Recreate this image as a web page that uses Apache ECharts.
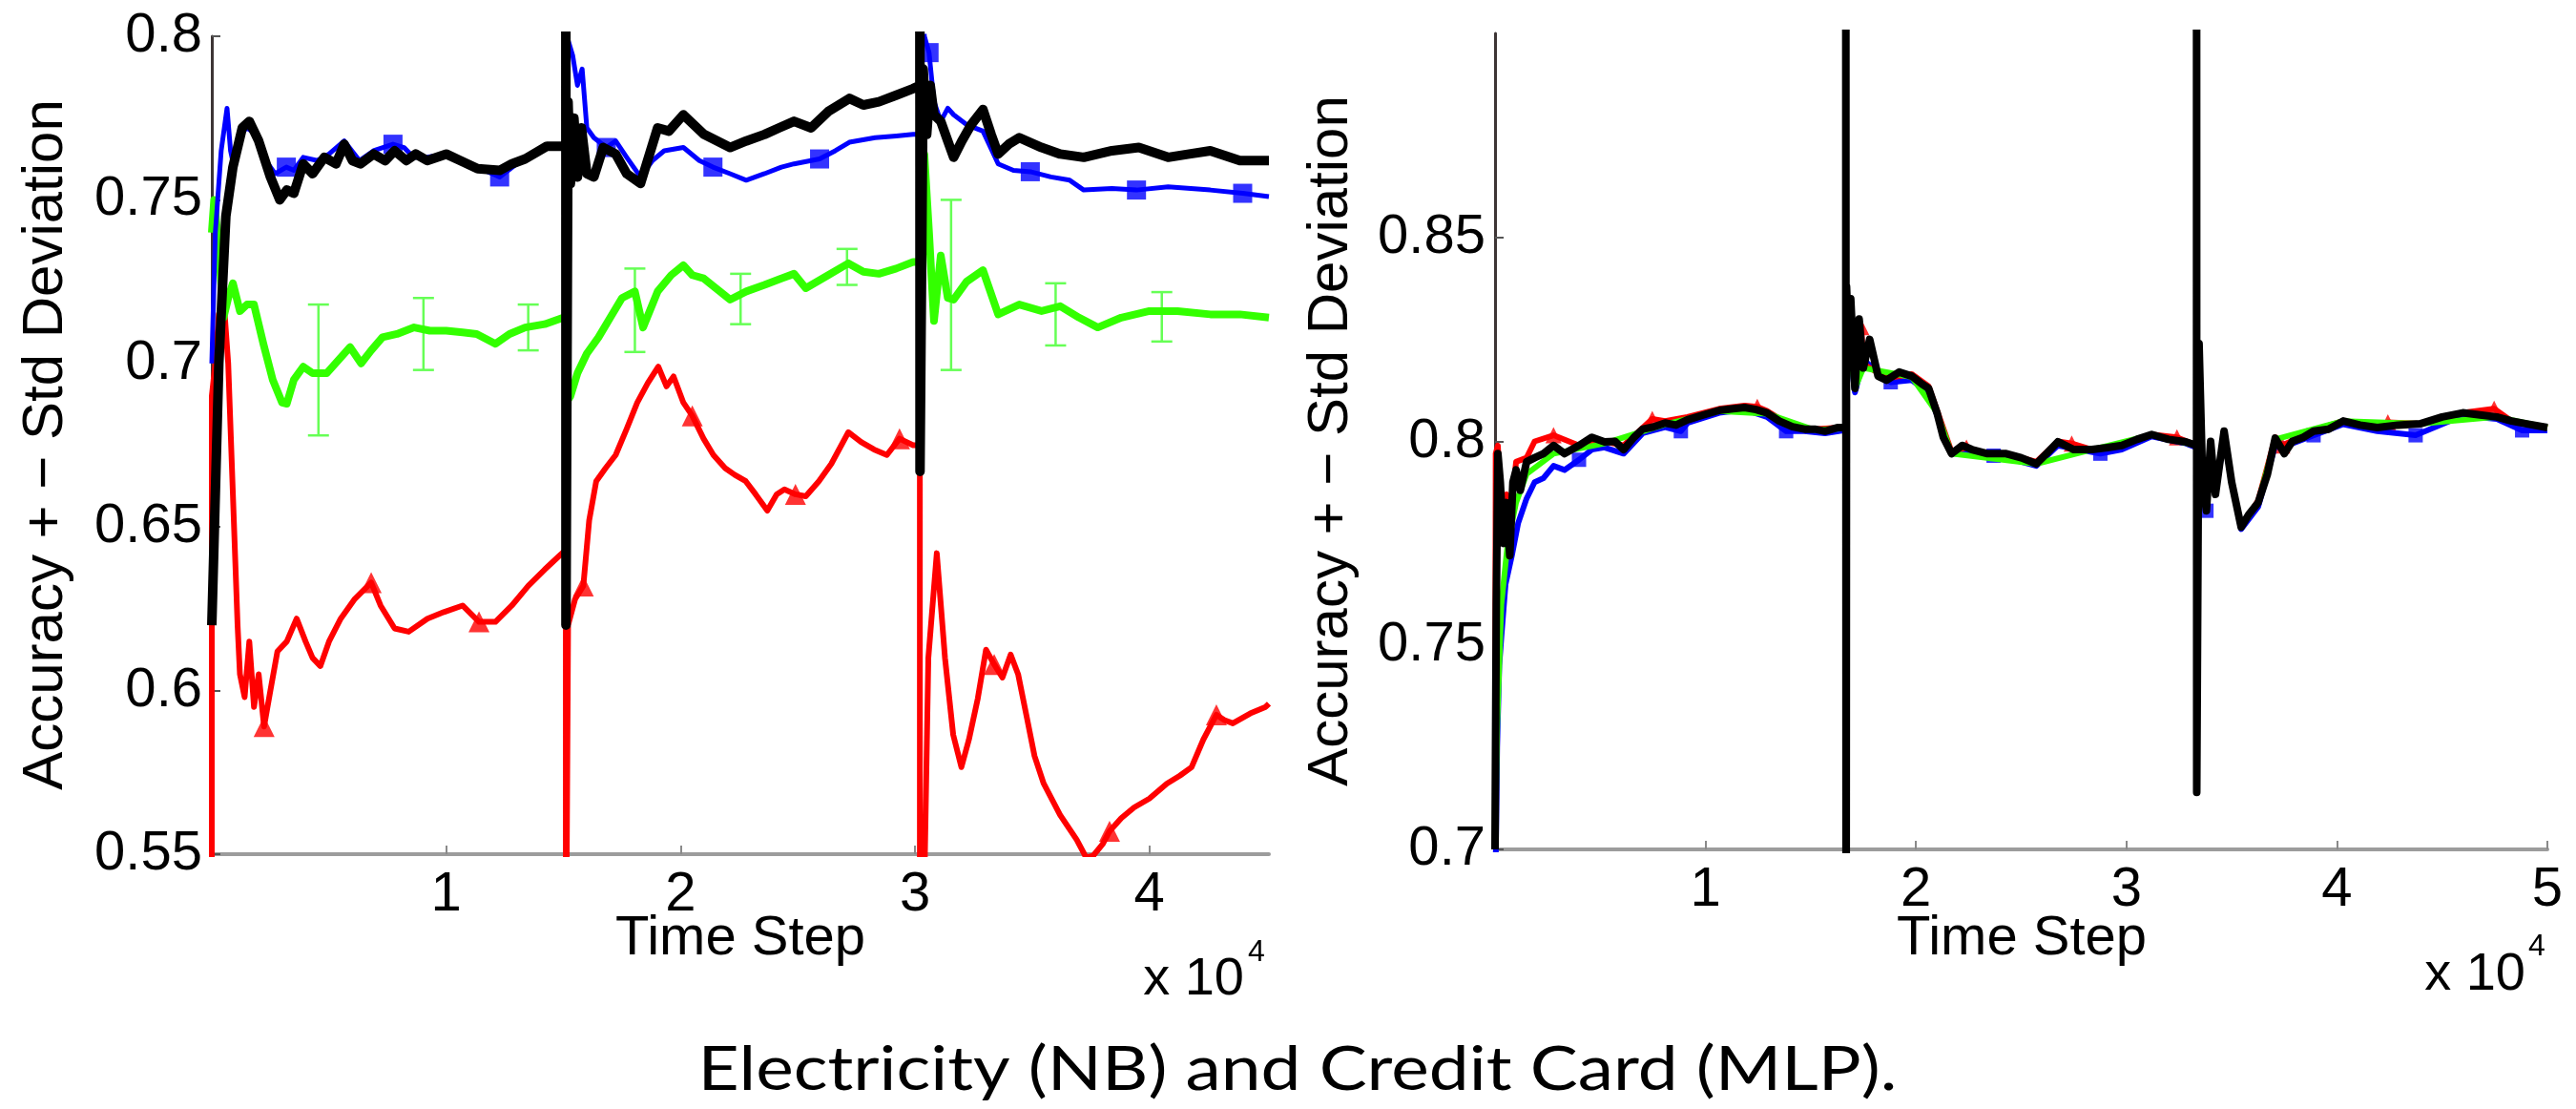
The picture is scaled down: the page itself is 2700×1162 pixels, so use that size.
<!DOCTYPE html>
<html><head><meta charset="utf-8">
<script src="https://cdn.jsdelivr.net/npm/echarts@6/dist/echarts.min.js"></script>
<style>html,body{margin:0;padding:0;background:#fff}#c{width:2700px;height:1162px}</style>
</head><body><div id="c"></div>
<script>
// ---------- Electricity (NB) : [timeStep, accuracy] ----------
const elecBlack = [[0,0.62],[300,0.70],[600,0.745],[900,0.76],[1300,0.772],[1600,0.774],[2000,0.768],[2500,0.757],[2900,0.75],[3200,0.753],[3500,0.752],[3900,0.761],[4300,0.758],[4800,0.763],[5300,0.761],[5650,0.767],[6000,0.762],[6340,0.761],[6900,0.764],[7400,0.762],[7800,0.765],[8300,0.762],[8700,0.764],[9190,0.762],[10000,0.764],[10600,0.762],[11340,0.7595],[12280,0.759],[12800,0.761],[13370,0.7625],[14300,0.7664],[15000,0.7664],[15104,0.7664],
[15104,0.85],[15110,0.62],[15200,0.78],[15300,0.755],[15450,0.775],[15600,0.757],[15770,0.772],[16000,0.758],[16300,0.757],[16700,0.766],[17230,0.764],[17700,0.758],[18290,0.755],[19020,0.772],[19500,0.771],[20120,0.776],[21000,0.770],[22110,0.766],[22800,0.768],[23580,0.77],[24200,0.772],[24840,0.774],[25570,0.772],[26300,0.777],[27200,0.781],[27800,0.779],[28460,0.780],[29200,0.782],[29920,0.784],[30208,0.785],
[30208,0.85],[30215,0.667],[30350,0.79],[30500,0.77],[30650,0.785],[30810,0.776],[31100,0.774],[31400,0.768],[31650,0.763],[32000,0.768],[32400,0.773],[32900,0.7776],[33250,0.77],[33550,0.764],[34000,0.767],[34450,0.769],[35400,0.766],[36200,0.764],[37200,0.763],[38400,0.765],[39550,0.766],[40800,0.763],[41700,0.764],[42600,0.765],[43860,0.762],[45100,0.762]];

const elecBlue = [[0,0.70],[150,0.74],[400,0.765],[650,0.778],[800,0.765],[950,0.76],[1200,0.77],[1500,0.772],[1900,0.77],[2300,0.762],[2700,0.758],[3180,0.760],[3500,0.759],[3900,0.763],[4500,0.762],[5000,0.764],[5650,0.768],[6300,0.762],[6900,0.765],[7730,0.767],[8200,0.766],[8600,0.763],[9190,0.763],[10000,0.764],[10600,0.762],[11340,0.760],[12280,0.757],[13000,0.761],[13370,0.763],[14300,0.766],[15000,0.7664],[15104,0.7664],
[15104,0.85],[15150,0.80],[15400,0.794],[15600,0.785],[15800,0.79],[16000,0.772],[16300,0.769],[16830,0.766],[17230,0.768],[17700,0.763],[18290,0.757],[18800,0.762],[19300,0.765],[20120,0.766],[20800,0.762],[21380,0.760],[22110,0.758],[22800,0.756],[23580,0.758],[24300,0.760],[24840,0.761],[25930,0.7625],[26600,0.765],[27200,0.7676],[28300,0.769],[29200,0.7695],[29920,0.770],[30208,0.770],
[30208,0.85],[30400,0.80],[30600,0.795],[30810,0.78],[31100,0.774],[31400,0.778],[31650,0.776],[32200,0.773],[32900,0.771],[33550,0.761],[34200,0.759],[34920,0.7586],[35800,0.757],[36600,0.756],[37200,0.753],[38400,0.7535],[39450,0.753],[40800,0.754],[42600,0.753],[43980,0.752],[45100,0.751]];

const elecGreen = [[0,0.74],[100,0.75],[300,0.735],[500,0.714],[700,0.72],[900,0.7245],[1200,0.716],[1500,0.718],[1800,0.718],[2200,0.706],[2600,0.695],[3000,0.688],[3200,0.6877],[3500,0.695],[3900,0.699],[4300,0.697],[4900,0.697],[5400,0.701],[5900,0.705],[6370,0.700],[6800,0.704],[7280,0.708],[7900,0.709],[8630,0.711],[9300,0.710],[10000,0.710],[10700,0.7095],[11300,0.709],[12100,0.706],[12700,0.709],[13370,0.711],[14200,0.712],[15000,0.714],[15104,0.714],
[15104,0.688],[15300,0.69],[15600,0.697],[16000,0.703],[16500,0.708],[17000,0.714],[17500,0.72],[18050,0.722],[18400,0.711],[19020,0.722],[19600,0.727],[20120,0.73],[20500,0.727],[20980,0.726],[21500,0.723],[22110,0.7195],[22800,0.722],[23580,0.724],[24300,0.726],[24840,0.7274],[25340,0.723],[26300,0.727],[27160,0.7306],[27800,0.728],[28460,0.7274],[29200,0.729],[29920,0.731],[30208,0.731],
[30208,0.76],[30400,0.764],[30600,0.74],[30810,0.713],[31100,0.733],[31400,0.72],[31650,0.7195],[32200,0.725],[32900,0.7285],[33550,0.715],[34450,0.718],[35400,0.716],[36200,0.7175],[37000,0.714],[37800,0.711],[38800,0.714],[40000,0.716],[41200,0.716],[42600,0.715],[43860,0.715],[45100,0.714]];

const elecRed = [[0,0.50],[0,0.69],[150,0.70],[300,0.715],[500,0.72],[700,0.70],[900,0.66],[1100,0.62],[1200,0.605],[1400,0.598],[1600,0.615],[1800,0.595],[2000,0.605],[2230,0.589],[2500,0.60],[2800,0.612],[3200,0.615],[3620,0.622],[4000,0.615],[4300,0.61],[4630,0.6075],[5000,0.615],[5500,0.622],[6100,0.628],[6800,0.633],[7200,0.626],[7800,0.619],[8400,0.618],[9200,0.622],[9900,0.624],[10700,0.626],[11400,0.621],[12100,0.621],[12800,0.626],[13500,0.632],[14200,0.637],[14800,0.641],[15104,0.643],
[15104,0.74],[15104,0.50],[15200,0.62],[15500,0.628],[15850,0.632],[16100,0.652],[16400,0.664],[16800,0.668],[17230,0.672],[17700,0.68],[18150,0.688],[18600,0.694],[19050,0.699],[19400,0.693],[19700,0.696],[20120,0.688],[20500,0.684],[20980,0.677],[21400,0.672],[21900,0.668],[22300,0.666],[22780,0.664],[23200,0.66],[23700,0.655],[24100,0.66],[24430,0.6615],[24900,0.66],[25340,0.6594],[25900,0.664],[26430,0.6693],[27160,0.679],[27700,0.676],[28250,0.6737],[28800,0.672],[29340,0.677],[29920,0.675],[30208,0.675],
[30208,0.50],[30300,0.50],[30570,0.61],[30930,0.642],[31280,0.61],[31630,0.5865],[31980,0.5766],[32300,0.585],[32680,0.5976],[33030,0.6125],[33380,0.608],[33730,0.604],[34080,0.611],[34400,0.605],[34780,0.5915],[35100,0.58],[35490,0.5716],[36190,0.562],[36900,0.5544],[37300,0.549],[37600,0.5495],[38000,0.553],[38300,0.557],[38800,0.561],[39350,0.5643],[40000,0.567],[40750,0.5716],[41300,0.574],[41800,0.5766],[42300,0.585],[42860,0.5926],[43200,0.591],[43560,0.590],[44300,0.593],[44960,0.595],[45100,0.596]];

// green error bars: [timeStep, low, high]
const elecGreenErr = [[4550,0.678,0.718],[9030,0.698,0.72],[13500,0.704,0.718],[18050,0.7035,0.729],[22560,0.712,0.7274],[27100,0.724,0.735],[31540,0.698,0.75],[36000,0.7055,0.7245],[40530,0.7067,0.7218]];
const elecBlueMarks = [3180,7730,12280,16830,21380,25930,30600,34920,39450,43980];
const elecRedMarks = [2230,6800,11400,15850,20500,24900,29340,33380,38300,42860];

// ---------- Credit Card (MLP) ----------
const ccBlack = [[0,0.70],[60,0.76],[136,0.797],[250,0.79],[400,0.775],[550,0.785],[700,0.772],[850,0.79],[1000,0.793],[1200,0.788],[1500,0.795],[1880,0.796],[2300,0.797],[2780,0.799],[3300,0.797],[3990,0.799],[4600,0.801],[5200,0.7999],[5700,0.800],[6110,0.798],[6600,0.801],[7020,0.803],[7500,0.8035],[8080,0.8045],[8600,0.804],[9140,0.8053],[9900,0.8065],[10650,0.8076],[11300,0.808],[11860,0.8083],[12400,0.8078],[12920,0.807],[13500,0.805],[14130,0.8036],[14700,0.803],[15190,0.803],[15680,0.8025],[16300,0.8034],[16667,0.8034],
[16667,0.95],[16680,0.65],[16700,0.838],[16800,0.825],[16900,0.835],[17100,0.813],[17300,0.83],[17500,0.818],[17800,0.825],[18200,0.816],[18600,0.815],[19200,0.817],[19800,0.816],[20300,0.814],[20600,0.813],[21000,0.807],[21300,0.801],[21690,0.797],[22200,0.799],[22660,0.798],[23400,0.797],[24290,0.797],[25000,0.796],[25720,0.7945],[26200,0.797],[26740,0.7999],[27500,0.798],[28360,0.798],[29100,0.7985],[29780,0.799],[30500,0.8005],[31200,0.8017],[32000,0.8005],[32820,0.7999],[33333,0.799],
[33333,0.95],[33340,0.714],[33450,0.824],[33620,0.79],[33800,0.783],[34000,0.80],[34230,0.787],[34640,0.8025],[35000,0.79],[35450,0.779],[35800,0.782],[36260,0.785],[36700,0.792],[37070,0.8008],[37500,0.797],[37880,0.800],[38400,0.801],[38890,0.8025],[39600,0.803],[40300,0.805],[41100,0.804],[41920,0.8034],[42900,0.804],[43950,0.8043],[45000,0.806],[45980,0.807],[46800,0.8065],[47600,0.806],[48300,0.805],[49020,0.8043],[50000,0.8034]];

const ccBlue = [[0,0.69],[40,0.70],[100,0.725],[200,0.745],[300,0.752],[500,0.765],[800,0.772],[1100,0.78],[1500,0.786],[1880,0.79],[2300,0.791],[2780,0.794],[3300,0.793],[3990,0.7955],[4600,0.798],[5200,0.7985],[6110,0.797],[7020,0.802],[8080,0.8035],[8830,0.8025],[9140,0.8045],[10650,0.807],[11860,0.8078],[12920,0.806],[13830,0.8025],[14700,0.8025],[15680,0.802],[16667,0.8028],
[16667,0.95],[16680,0.65],[16700,0.838],[16800,0.825],[17100,0.812],[17500,0.82],[18800,0.8145],[19800,0.815],[20600,0.812],[21690,0.797],[22660,0.797],[23690,0.7965],[24290,0.796],[25720,0.794],[26740,0.799],[28760,0.797],[29780,0.798],[31200,0.8012],[32820,0.7995],[33333,0.7985],
[33333,0.95],[33340,0.714],[33450,0.823],[33620,0.789],[33800,0.783],[34000,0.799],[34230,0.787],[34640,0.801],[35000,0.79],[35450,0.7785],[36260,0.784],[37070,0.799],[37880,0.7995],[38890,0.8015],[40300,0.8042],[41920,0.8025],[43740,0.8015],[45980,0.8063],[47600,0.8055],[48800,0.8027],[50000,0.8027]];

const ccRed = [[0,0.70],[30,0.797],[136,0.799],[300,0.78],[550,0.787],[800,0.785],[1000,0.795],[1500,0.796],[1880,0.8],[2780,0.8015],[3990,0.799],[5200,0.800],[6110,0.799],[7470,0.8055],[8080,0.805],[9140,0.806],[10650,0.808],[11860,0.8088],[12460,0.8085],[12920,0.8075],[14130,0.8036],[15190,0.803],[16667,0.8035],
[16667,0.95],[16680,0.65],[16700,0.837],[16800,0.825],[17100,0.814],[17400,0.828],[17500,0.819],[18600,0.8155],[19800,0.8165],[20600,0.8135],[21690,0.7975],[22400,0.7985],[23400,0.797],[24290,0.797],[25720,0.795],[26740,0.800],[27400,0.7995],[28360,0.798],[29780,0.799],[31200,0.8017],[32400,0.801],[33333,0.799],
[33333,0.95],[33340,0.714],[33450,0.824],[33620,0.79],[33800,0.783],[34000,0.80],[34230,0.787],[34640,0.8025],[35000,0.79],[35450,0.779],[36260,0.7855],[37070,0.801],[37400,0.799],[37880,0.8002],[38890,0.8028],[40300,0.805],[41920,0.8035],[42420,0.8047],[43950,0.8043],[45980,0.807],[47470,0.808],[48300,0.805],[50000,0.8034]];

const ccGreen = [[0,0.70],[100,0.73],[300,0.76],[600,0.775],[1000,0.785],[1500,0.792],[2780,0.797],[5200,0.7995],[8080,0.8042],[10650,0.8074],[12920,0.8068],[15190,0.8028],[16667,0.8032],
[16667,0.95],[16680,0.65],[16700,0.837],[16800,0.825],[17100,0.813],[17500,0.818],[19800,0.8158],[21000,0.807],[21690,0.797],[25720,0.7945],[28360,0.798],[31200,0.8016],[33333,0.799],
[33333,0.95],[33340,0.714],[33450,0.823],[33620,0.79],[33800,0.783],[34000,0.80],[34230,0.787],[34640,0.802],[35000,0.79],[35450,0.779],[36260,0.785],[37070,0.8005],[40300,0.805],[43950,0.8043],[47600,0.806],[50000,0.8034]];

const ccBlueMarks = [3990,8830,13830,18800,23690,28760,33800,38890,43740,48800];
const ccRedMarks = [2780,7470,12460,17400,22400,27400,32400,37400,42420,47470];

// tick values
const elecXTicks = [10000,20000,30000,40000];
const ccXTicks = [10000,20000,30000,40000,50000];
const elecYTicks = [0.55,0.6,0.65,0.7,0.75,0.8];
const ccYTicks = [0.7,0.75,0.8,0.85];

const yLabelText = 'Accuracy + \u2212 Std Deviation';
const xLabelText = 'Time Step';
const caption = 'Electricity (NB) and Credit Card (MLP).';

// ---------- chart ----------
const FONT = '"Liberation Sans", Arial, Helvetica, sans-serif';
const BLUE = '#0000ff', BLACK = '#000000', GREEN = '#33ff00', RED = '#ff0000';

function pick(data, xs) { return xs.map(x => data.find(p => p[0] === x)).filter(Boolean); }

function xAxisCfg(gi, max, ticks) {
  return {
    gridIndex: gi, type: 'value', min: 0, max: max,
    axisLine: { lineStyle: { color: '#9c9c9c', width: 4 } },
    axisTick: { inside: true, length: 9, customValues: ticks, lineStyle: { color: '#8a8a8a', width: 2 } },
    axisLabel: { customValues: ticks, formatter: v => String(v / 10000), margin: 14, color: '#000', fontSize: 58, fontFamily: FONT },
    splitLine: { show: false }
  };
}
function yAxisCfg(gi, min, max, ticks) {
  return {
    gridIndex: gi, type: 'value', min: min, max: max,
    axisLine: { show: true, lineStyle: { color: '#3d3535', width: 3 } },
    axisTick: { inside: true, length: 9, customValues: ticks, lineStyle: { color: '#555', width: 2 } },
    axisLabel: { customValues: ticks, formatter: v => String(Math.round(v * 100) / 100), margin: 10, color: '#000', fontSize: 58, fontFamily: FONT },
    splitLine: { show: false }
  };
}
function lineS(gi, data, color, width) {
  return { type: 'line', xAxisIndex: gi, yAxisIndex: gi, data: data, symbol: 'none', showSymbol: false,
    lineStyle: { color: color, width: width, join: 'round' }, clip: true, silent: true, animation: false };
}
function markS(gi, data, color, symbol, size) {
  return { type: 'scatter', xAxisIndex: gi, yAxisIndex: gi, data: data, symbol: symbol, symbolSize: size,
    itemStyle: { color: color }, silent: true, animation: false };
}

const option = {
  backgroundColor: '#ffffff',
  animation: false,
  grid: [
    { left: 222, top: 38, width: 1108, height: 857 },
    { left: 1567, top: 35, width: 1103, height: 855 }
  ],
  xAxis: [ xAxisCfg(0, 45100, elecXTicks), xAxisCfg(1, 50000, ccXTicks) ],
  yAxis: [ yAxisCfg(0, 0.55, 0.8, elecYTicks), yAxisCfg(1, 0.7, 0.9, ccYTicks) ],
  series: [
    lineS(0, elecRed, RED, 6),
    markS(0, pick(elecRed, elecRedMarks), RED, 'triangle', 22),
    {
      type: 'custom', xAxisIndex: 0, yAxisIndex: 0, data: elecGreenErr, silent: true, animation: false,
      encode: { x: 0, y: [1, 2] },
      renderItem: function (params, api) {
        const x = api.value(0), lo = api.value(1), hi = api.value(2);
        const a = api.coord([x, lo]), b = api.coord([x, hi]);
        const w = 11, st = { stroke: '#66ff55', lineWidth: 2.5 };
        return { type: 'group', children: [
          { type: 'line', shape: { x1: a[0], y1: a[1], x2: b[0], y2: b[1] }, style: st },
          { type: 'line', shape: { x1: a[0] - w, y1: a[1], x2: a[0] + w, y2: a[1] }, style: st },
          { type: 'line', shape: { x1: b[0] - w, y1: b[1], x2: b[0] + w, y2: b[1] }, style: st }
        ] };
      }
    },
    lineS(0, elecGreen, GREEN, 8),
    lineS(0, elecBlue, BLUE, 5),
    markS(0, pick(elecBlue, elecBlueMarks), BLUE, 'rect', 20),
    lineS(0, elecBlack, BLACK, 10),

    lineS(1, ccBlue, BLUE, 6),
    markS(1, pick(ccBlue, ccBlueMarks), BLUE, 'rect', 15),
    lineS(1, ccRed, RED, 6),
    markS(1, pick(ccRed, ccRedMarks), RED, 'triangle', 17),
    lineS(1, ccGreen, GREEN, 6),
    lineS(1, ccBlack, BLACK, 8)
  ],
  graphic: [
    { type: 'text', x: 48, y: 466, rotation: Math.PI / 2, silent: true,
      style: { text: yLabelText, fill: '#000', fontSize: 60, fontFamily: FONT, align: 'center', verticalAlign: 'middle' } },
    { type: 'text', x: 1395, y: 462, rotation: Math.PI / 2, silent: true,
      style: { text: yLabelText, fill: '#000', fontSize: 60, fontFamily: FONT, align: 'center', verticalAlign: 'middle' } },
    { type: 'text', x: 776, y: 984, silent: true,
      style: { text: xLabelText, fill: '#000', fontSize: 58, fontFamily: FONT, align: 'center', verticalAlign: 'middle' } },
    { type: 'text', x: 2119, y: 984, silent: true,
      style: { text: xLabelText, fill: '#000', fontSize: 58, fontFamily: FONT, align: 'center', verticalAlign: 'middle' } },
    { type: 'text', x: 1304, y: 1027, silent: true,
      style: { text: 'x 10', fill: '#000', fontSize: 56, fontFamily: FONT, align: 'right', verticalAlign: 'middle' } },
    { type: 'text', x: 1308, y: 998, silent: true,
      style: { text: '4', fill: '#000', fontSize: 32, fontFamily: FONT, align: 'left', verticalAlign: 'middle' } },
    { type: 'text', x: 2647, y: 1022, silent: true,
      style: { text: 'x 10', fill: '#000', fontSize: 56, fontFamily: FONT, align: 'right', verticalAlign: 'middle' } },
    { type: 'text', x: 2650, y: 992, silent: true,
      style: { text: '4', fill: '#000', fontSize: 32, fontFamily: FONT, align: 'left', verticalAlign: 'middle' } },
    { type: 'text', x: 1360, y: 1121, scaleX: 1.17, silent: true,
      style: { text: caption, fill: '#000', fontSize: 64, fontFamily: 'Lato, "Open Sans", sans-serif', align: 'center', verticalAlign: 'middle' } }
  ]
};

const chart = echarts.init(document.getElementById('c'), null, { renderer: 'canvas', width: 2700, height: 1162 });
chart.setOption(option);
</script>
</body></html>
